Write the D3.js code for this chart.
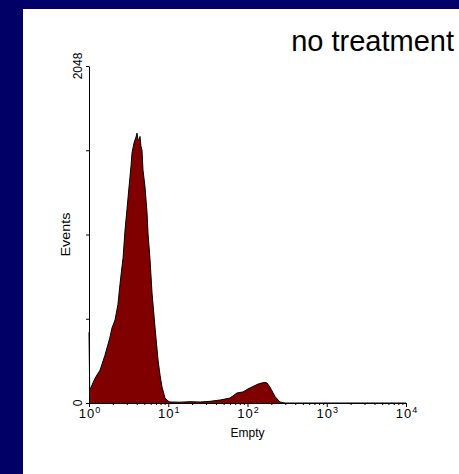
<!DOCTYPE html>
<html>
<head>
<meta charset="utf-8">
<script src="https://cdn.jsdelivr.net/npm/d3@7"></script>
<style>
  html, body { margin: 0; padding: 0; background: #000066; }
  svg { display: block; }
  text { font-family: Arial, "Liberation Sans", sans-serif; fill: #000; }
</style>
</head>
<body>
<svg id="chart" width="459" height="474"></svg>
<script>
// Fluorescence intensity (channel value) and event counts of the histogram
const channel = [1.00, 1.02, 1.06, 1.19, 1.38, 1.59, 1.84, 1.95, 2.13, 2.32, 2.46, 2.61, 2.69,
  2.85, 3.02, 3.20, 3.39, 3.49, 3.59, 3.70, 3.81, 3.92, 4.03, 4.15, 4.27, 4.40, 4.53, 4.66,
  4.80, 5.09, 5.40, 5.55, 5.89, 6.24, 6.80, 7.43, 7.87, 8.34, 9.10, 9.93, 10.5, 14.1, 18.8,
  25.2, 33.6, 45.0, 60.1, 73.7, 87.7, 101, 117, 136, 152, 166, 176, 192, 210, 222, 243,
  257, 281, 300, 10000];
const events = [430, 85, 95, 150, 200, 290, 400, 456, 504, 600, 720, 830, 880,
  1051, 1180, 1313, 1440, 1519, 1550, 1580, 1600, 1616, 1640, 1600, 1598, 1620, 1560, 1537,
  1416, 1313, 1155, 1033, 870, 668, 462, 261, 170, 97, 30, 12, 6, 5, 8,
  6, 10, 18, 30, 61, 67, 85, 100, 115, 122, 125, 122, 97, 61, 40, 18,
  6, 2, 0, 0];

const xMajor = [1, 10, 100, 1000, 10000];
const xExponents = ["0", "1", "2", "3", "4"];
const yTicks = [0, 512, 1024, 1536, 2048];
const yLabels = [0, 2048];
const title = "no treatment";
const xTitle = "Empty";
const yTitle = "Events";

const svg = d3.select("#chart");
const W = 459, H = 474;

// white panel on the navy slide background
svg.append("rect").attr("x", 23).attr("y", 9).attr("width", W - 23).attr("height", H - 9)
  .attr("fill", "#fff");

const margin = { left: 89, right: 53, top: 66, bottom: 71 };
const x = d3.scaleLog().domain([1, 1e4]).range([margin.left, W - margin.right]);
const y = d3.scaleLinear().domain([0, 2048]).range([H - margin.bottom, margin.top]);

const pts = channel.map((c, i) => [c, events[i]]);

// filled histogram
const area = d3.area().x(d => x(d[0])).y0(y(0)).y1(d => y(d[1]));
const line = d3.line().x(d => x(d[0])).y(d => y(d[1]));
svg.append("path").datum(pts).attr("d", area).attr("fill", "#800000");
svg.append("path").datum(pts).attr("d", line).attr("fill", "none")
  .attr("stroke", "#000").attr("stroke-width", 1);

// x axis: decade ticks plus minor ticks
const minor = [];
for (let d = 1; d < 1e4; d *= 10) for (let k = 2; k <= 9; k++) minor.push(d * k);
const gx = svg.append("g").attr("transform", `translate(0,${y(0)})`);
gx.call(d3.axisBottom(x).tickValues(xMajor).tickSize(4).tickSizeOuter(0).tickFormat(""));
gx.append("g").call(d3.axisBottom(x).tickValues(minor).tickSize(2).tickSizeOuter(0).tickFormat(""))
  .select(".domain").remove();
gx.selectAll("line, path").attr("stroke", "#000").attr("stroke-width", 1);

xMajor.forEach((v, i) => {
  const t = svg.append("text").attr("x", x(v) + 1).attr("y", y(0) + 15)
    .attr("text-anchor", "middle").attr("font-size", 13).attr("letter-spacing", 1);
  t.append("tspan").text("10");
  t.append("tspan").attr("font-size", 9).attr("dy", -5).text(xExponents[i]);
});

// y axis
const gy = svg.append("g").attr("transform", `translate(${x(1)},0)`);
gy.call(d3.axisLeft(y).tickValues(yTicks).tickSize(3).tickSizeOuter(0).tickFormat(""));
gy.selectAll("line, path").attr("stroke", "#000").attr("stroke-width", 1);

yLabels.forEach(v => {
  svg.append("text")
    .attr("transform", `translate(${x(1) - 7},${y(v)}) rotate(-90)`)
    .attr("text-anchor", "middle").attr("font-size", 12).text(v);
});

// axis titles
svg.append("text").attr("x", (x(1) + x(1e4)) / 2).attr("y", y(0) + 34)
  .attr("text-anchor", "middle").attr("font-size", 12).text(xTitle);
svg.append("text").attr("transform", `translate(70,${(y(0) + y(2048)) / 2}) rotate(-90)`)
  .attr("text-anchor", "middle").attr("font-size", 12)
  .attr("textLength", 44).attr("lengthAdjust", "spacingAndGlyphs").text(yTitle);

// title
svg.append("text").attr("x", 454).attr("y", 51).attr("text-anchor", "end")
  .attr("font-size", 29).text(title);
</script>
</body>
</html>
